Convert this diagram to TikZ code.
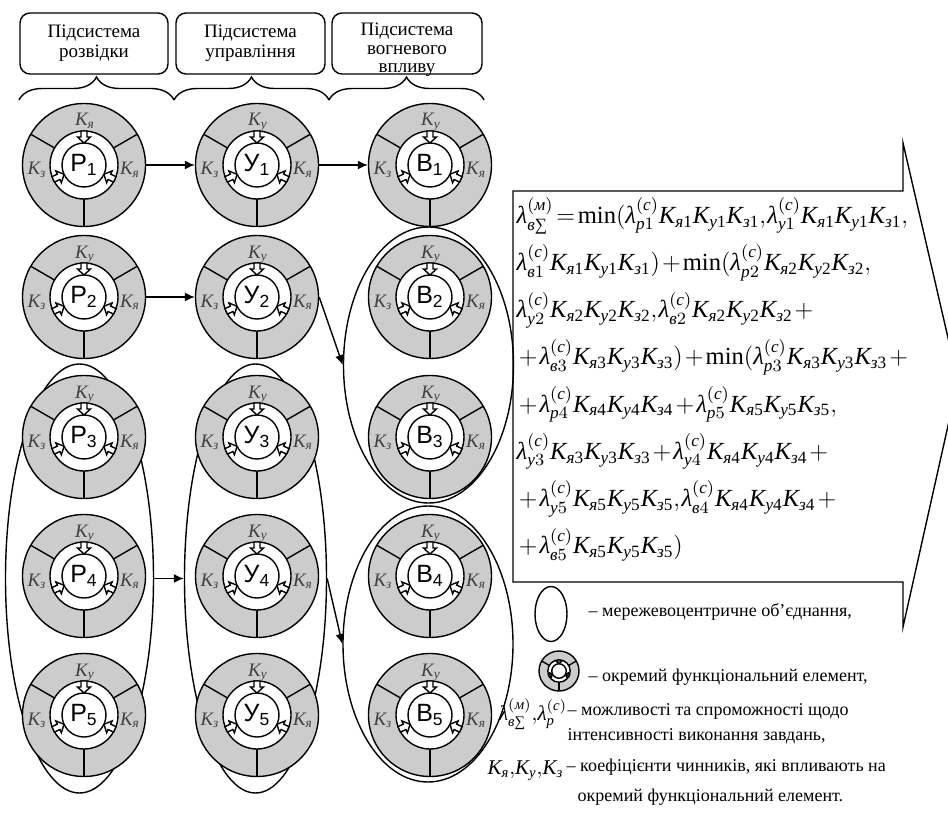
\documentclass[tikz,border=0pt]{standalone}
\usepackage{fix-cm}
\usepackage{amsmath}
\usepackage{fontspec}
\setmainfont{Liberation Serif}
\newfontfamily\sansf{Liberation Sans}
\usetikzlibrary{shapes.geometric,arrows.meta,decorations.pathreplacing}

\newcommand\Kf[2]{\text{\itshape K}_{\text{\itshape #1}\text{#2}}}
\newcommand\lf[3]{\text{\itshape λ}^{(\text{\itshape #1})}_{\text{\itshape #2}#3}}
\newcommand\kkk[1]{\Kf{я}{#1}\Kf{у}{#1}\Kf{з}{#1}}

\tikzset{
  fel/.style={circle, draw, fill=black!20, minimum size=61.5pt, inner sep=0pt},
  fin/.style={circle, draw, fill=white, minimum size=22pt, inner sep=0pt, font=\sansf\fontsize{12.5}{14}\selectfont},
  kl/.style={anchor=base, inner sep=0pt, text=black!75, font=\fontsize{9.5}{11}\selectfont},
  union/.style={ellipse, draw, inner sep=0pt},
  hdr/.style={draw, rounded corners=5pt, align=center, inner sep=0pt, minimum height=30.5pt, font=\fontsize{9.5}{10}\selectfont},
  arr/.style={-{Latex[length=5pt,width=4.5pt]}},
  lgtext/.style={anchor=west, inner sep=0pt, align=left, font=\fontsize{9}{12.5}\selectfont},
  tight/.style={execute at begin node={\thickmuskip=2mu plus 1mu\medmuskip=1.5mu plus 1mu\thinmuskip=1mu}},
}

\begin{document}
\begin{tikzpicture}[x=0.5pt, y=-0.5pt, line width=0.7pt]
\useasboundingbox (0,0) rectangle (948,813);
\clip (0,0) rectangle (948,813);

% subsystems
\node[hdr, minimum width=74pt] (h1) at (94,43.5) {Підсистема\\розвідки};
\node[hdr, minimum width=74.5pt] (h2) at (250.5,43.5) {Підсистема\\управління};
\node[hdr, minimum width=75pt] (h3) at (407,43.5) {};
\node[align=center, inner sep=0pt, font=\fontsize{9.5}{9.3}\selectfont] (h3-t) at (407,50) {Підсистема\\вогневого\\впливу};
\foreach \a/\b in {19/174, 174/329, 329/484}
  \draw[decorate, decoration={brace, amplitude=11.5pt}] (\a,100) -- (\b,100);

% network-centric unions
\node[union, minimum width=74pt, minimum height=214.5pt] (ep) at (79.5,578.5) {};
\node[union, minimum width=71pt, minimum height=214.5pt] (eu) at (255.5,578.5) {};
\node[union, minimum width=85pt, minimum height=138pt] (ev23) at (428.5,365) {};
\node[union, minimum width=85pt, minimum height=138pt] (ev45) at (428,644) {};

% functional elements
\foreach \col/\x/\lab/\tp in {p/84/Р/я, u/257/У/у, v/430/В/у}
\foreach \row/\y in {1/165, 2/297, 3/437, 4/576, 5/715}{
\ifnum\row=1 \edef\tk{\tp}\else\def\tk{у}\fi
\node[fel] (\col\row) at (\x,\y) {};
\begin{scope}[shift={(\col\row.center)}]
\draw[fill=white] (0,0) circle (34);
\foreach \a in {-30,90,210} \draw (\a:34) -- (\a:61.5);
\foreach \a in {90,205,-25}
  \draw[fill=white, rotate=\a] (34,-3) -- (28,-3) -- (28,-6.5) -- (22,0) -- (28,6.5) -- (28,3) -- (34,3) -- cycle;
\end{scope}
\node[fin] (\col\row-c) at (\col\row) {\lab\textsubscript{\row}};
\node[kl] (\col\row-t) at ([shift={(1,-39)}]\col\row.center) {$\Kf{\tk}{}$};
\node[kl] (\col\row-l) at ([shift={(-47,10)}]\col\row.center) {$\Kf{з}{}$};
\node[kl] (\col\row-r) at ([shift={(46,10)}]\col\row.center) {$\Kf{я}{}$};
}

% links
\draw[arr] (p1) -- (u1);
\draw[arr] (u1) -- (v1);
\draw[arr] (p2) -- (u2);
\draw[arr] (u2.east) -- (ev23.west);
\draw[arr] (ep) -- (eu);
\draw[arr] (eu.east) -- (ev45.west);

% formula callout
\draw (513,191) -- (903,191) -- (903,143) -- (958,381) -- (903,627) -- (903,582) -- (513,582) -- cycle;
\node[tight, anchor=north west, inner sep=0pt, align=left, font=\fontsize{12.3}{23.6}\selectfont] (fm) at (516,197) {%
$\lf{м}{в}{\text{∑}}=\text{min}(\lf{с}{р}{1}\kkk{1},\lf{с}{у}{1}\kkk{1},$\\
$\lf{с}{в}{1}\kkk{1})+\text{min}(\lf{с}{р}{2}\kkk{2},$\\
$\lf{с}{у}{2}\kkk{2},\lf{с}{в}{2}\kkk{2}+{}$\\
${}+\lf{с}{в}{3}\kkk{3})+\text{min}(\lf{с}{р}{3}\kkk{3}+{}$\\
${}+\lf{с}{р}{4}\kkk{4}+\lf{с}{р}{5}\kkk{5},$\\
$\lf{с}{у}{3}\kkk{3}+\lf{с}{у}{4}\kkk{4}+{}$\\
${}+\lf{с}{у}{5}\kkk{5},\lf{с}{в}{4}\kkk{4}+{}$\\
${}+\lf{с}{в}{5}\kkk{5})$};

% legend
\node[union, minimum width=16pt, minimum height=27.5pt] (lg1) at (551,614) {};
\node[lgtext] (lg1-t) at (588,612) {– мережевоцентричне об’єднання,};
\node[fel, minimum size=20pt] (lg2) at (559,671) {};
\begin{scope}[shift={(lg2.center)}, scale=0.33]
\draw[fill=white] (0,0) circle (34);
\foreach \a in {-30,90,210} \draw (\a:34) -- (\a:61.5);
\foreach \a in {90,205,-25}
  \draw[fill=white, rotate=\a] (34,-3) -- (28,-3) -- (28,-6.5) -- (22,0) -- (28,6.5) -- (28,3) -- (34,3) -- cycle;
\draw[fill=white] (0,0) circle (22);
\end{scope}
\node[lgtext] (lg2-t) at (588,677) {– окремий функціональний елемент,};
\node[tight, anchor=east, inner sep=0pt, font=\fontsize{10.5}{14}\selectfont] (lg3) at (568,714) {$\lf{м}{в}{\text{∑}}{,}\lf{с}{р}{}$};
\node[lgtext, anchor=north west] (lg3-t) at (567,703) {– можливості та спроможності щодо\\інтенсивності виконання завдань,};
\node[tight, anchor=east, inner sep=0pt, font=\fontsize{10.5}{14}\selectfont] (lg4) at (564,771) {$\Kf{я}{}{,}\Kf{у}{}{,}\Kf{з}{}$};
\node[lgtext] (lg4-t) at (566,767) {– коефіцієнти чинників, які впливають на};
\node[lgtext] (lg4-t2) at (577,797) {окремий функціональний елемент.};

\end{tikzpicture}
\end{document}
